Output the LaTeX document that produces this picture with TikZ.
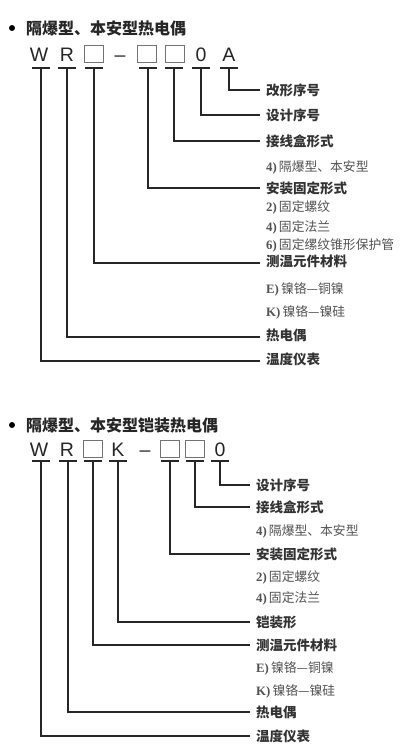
\documentclass[tikz,border=0pt]{standalone}
\usepackage{fontspec}
\newfontfamily\cjk{Noto Sans CJK SC}
\newfontfamily\codefont{Liberation Sans}
\newfontfamily\serifopt{Liberation Serif}
\newcommand{\optx}[2]{{\serifopt\bfseries #1}\,{\cjk #2}}
\begin{document}
\begin{tikzpicture}[x=1pt,y=-1pt,
  conn/.style={line width=1.3pt, draw=black!85},
  code/.style={font=\codefont\fontsize{19.5}{19.5}\selectfont, inner sep=0pt, anchor=base, text=black!85},
  cbox/.style={draw=black!55, line width=0.9pt, minimum width=19.5pt, minimum height=17pt, inner sep=0pt},
  lab/.style={font=\cjk\bfseries\fontsize{13.5}{14}\selectfont, anchor=west, inner xsep=6pt, inner ysep=0pt, text=black!80},
  opt/.style={font=\fontsize{12.8}{13}\selectfont, anchor=west, inner xsep=6pt, inner ysep=0pt, text=black!68},
  ttl/.style={font=\cjk\bfseries\fontsize{16}{16}\selectfont, anchor=west, inner sep=0pt, text=black!85},
  dot/.style={circle, fill=black, inner sep=0pt, minimum size=6pt}
]
\useasboundingbox (0,0) rectangle (420,755);

% ---------------- top diagram ----------------
\node[dot] (b1) at (12,28) {};
\node[ttl] (t1) at (26,28) {隔爆型、本安型热电偶};

\node[code] (cW) at (39,61) {W};
\node[code] (cR) at (67,61) {R};
\node[cbox] (cB1) at (94,53.5) {};
\node[code] (cD) at (120,61) {–};
\node[cbox] (cB2) at (147,53.5) {};
\node[cbox] (cB3) at (175,53.5) {};
\node[code] (c0) at (201,61) {0};
\node[code] (cA) at (229,61) {A};

\foreach \n/\x in {tW/41,tR/67,tB1/94,tB2/148,tB3/174,t0/201,tA/229}{
  \coordinate (\n) at (\x,68);
  \draw[conn] ([xshift=-9pt]\n) -- ([xshift=9pt]\n);
}

\node[lab] (lA) at (260,90) {改形序号};
\node[lab] (l0) at (260,115) {设计序号};
\node[lab] (lB3) at (260,141) {接线盒形式};
\node[opt] (o1) at (260,167) {\optx{4)}{隔爆型、本安型}};
\node[lab] (lB2) at (260,188) {安装固定形式};
\node[opt] (o2) at (260,207) {\optx{2)}{固定螺纹}};
\node[opt] (o3) at (260,227) {\optx{4)}{固定法兰}};
\node[opt] (o4) at (260,245) {\optx{6)}{固定缧纹锥形保护管}};
\node[lab] (lB1) at (260,261) {测温元件材料};
\node[opt] (o5) at (260,289) {\optx{E)}{镍铬—铜镍}};
\node[opt] (o6) at (260,312) {\optx{K)}{镍铬—镍硅}};
\node[lab] (lR) at (260,335) {热电偶};
\node[lab] (lW) at (260,359) {温度仪表};

\draw[conn] (tA) |- (lA.west);
\draw[conn] (t0) |- (l0.west);
\draw[conn] (tB3) |- (lB3.west);
\draw[conn] (tB2) |- (lB2.west);
\draw[conn] (tB1) |- ([yshift=-2pt]lB1.west);
\draw[conn] (tR) |- ([yshift=-2pt]lR.west);
\draw[conn] (tW) |- ([yshift=-2pt]lW.west);

% ---------------- bottom diagram ----------------
\node[dot] (b2) at (12,425) {};
\node[ttl] (t2) at (26,425) {隔爆型、本安型铠装热电偶};

\node[code] (dW) at (39,456) {W};
\node[code] (dR) at (67,456) {R};
\node[cbox] (dB1) at (93,449) {};
\node[code] (dK) at (118,456) {K};
\node[code] (dD) at (145,456) {–};
\node[cbox] (dB2) at (170,449) {};
\node[cbox] (dB3) at (195,449) {};
\node[code] (d0) at (220,456) {0};

\foreach \n/\x in {sW/41,sR/68,sB1/93,sK/118,sB2/170,sB3/195,s0/220}{
  \coordinate (\n) at (\x,461);
  \draw[conn] ([xshift=-9pt]\n) -- ([xshift=9pt]\n);
}

\node[lab] (m0) at (250,485) {设计序号};
\node[lab] (mB3) at (250,507) {接线盒形式};
\node[opt] (p1) at (250,531) {\optx{4)}{隔爆型、本安型}};
\node[lab] (mB2) at (250,554) {安装固定形式};
\node[opt] (p2) at (250,577) {\optx{2)}{固定螺纹}};
\node[opt] (p3) at (250,598) {\optx{4)}{固定法兰}};
\node[lab] (mK) at (250,622) {铠装形};
\node[lab] (mB1) at (250,645) {测温元件材料};
\node[opt] (p4) at (250,668) {\optx{E)}{镍铬—铜镍}};
\node[opt] (p5) at (250,691) {\optx{K)}{镍铬—镍硅}};
\node[lab] (mR) at (250,712) {热电偶};
\node[lab] (mW) at (250,736) {温度仪表};

\draw[conn] (s0) |- (m0.west);
\draw[conn] (sB3) |- (mB3.west);
\draw[conn] (sB2) |- (mB2.west);
\draw[conn] (sK) |- (mK.west);
\draw[conn] (sB1) |- (mB1.west);
\draw[conn] (sR) |- (mR.west);
\draw[conn] (sW) |- (mW.west);
\end{tikzpicture}
\end{document}
